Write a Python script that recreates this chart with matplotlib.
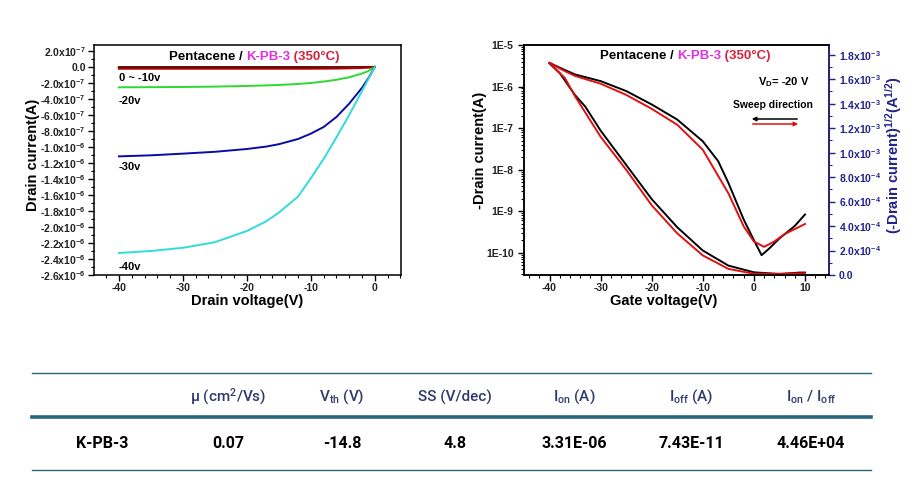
import matplotlib
matplotlib.use('Agg')
import matplotlib.pyplot as plt
from matplotlib.ticker import MultipleLocator, FuncFormatter, LogLocator, NullFormatter
from matplotlib.transforms import IdentityTransform
from matplotlib.patches import FancyArrowPatch
import numpy as np

plt.rcParams['font.family'] = ['Liberation Sans', 'DejaVu Sans']
plt.rcParams['mathtext.fontset'] = 'custom'
plt.rcParams['mathtext.rm'] = 'Liberation Sans'
plt.rcParams['axes.unicode_minus'] = False

# ---------------- output characteristics (left) ----------------
vd = [-40, -35, -30, -25, -20, -17, -15, -12, -10, -8, -6, -4, -2, -1, 0]
id_vg0 = [-0.3e-8, -0.3e-8, -0.3e-8, -0.3e-8, -0.3e-8, -0.3e-8, -0.3e-8, -0.3e-8,
          -0.3e-8, -0.3e-8, -0.3e-8, -0.3e-8, -0.2e-8, -0.1e-8, 0.0]
id_vg10 = [-2.0e-8, -2.0e-8, -2.0e-8, -2.0e-8, -2.0e-8, -2.0e-8, -2.0e-8, -2.0e-8,
           -2.0e-8, -1.9e-8, -1.8e-8, -1.5e-8, -1.0e-8, -0.6e-8, 0.0]
id_vg20 = [-2.54e-7, -2.52e-7, -2.50e-7, -2.45e-7, -2.37e-7, -2.30e-7, -2.25e-7, -2.12e-7,
           -2.00e-7, -1.82e-7, -1.60e-7, -1.28e-7, -0.82e-7, -0.50e-7, 0.0]
id_vg30 = [-11.17e-7, -11.04e-7, -10.83e-7, -10.6e-7, -10.25e-7, -9.95e-7, -9.65e-7, -9.0e-7,
           -8.33e-7, -7.5e-7, -6.25e-7, -4.58e-7, -2.6e-7, -1.4e-7, 0.0]
id_vg40 = [-23.25e-7, -23.0e-7, -22.6e-7, -21.9e-7, -20.5e-7, -19.3e-7, -18.2e-7, -16.2e-7,
           -13.9e-7, -11.5e-7, -8.8e-7, -6.0e-7, -3.0e-7, -1.5e-7, 0.0]
out_labels = ['0 ~ -10v', '-20v', '-30v', '-40v']

# ---------------- transfer characteristics (right) ----------------
vg_blk_log = [-40, -37, -35, -30, -25, -20, -15, -10, -7, -5, -2, 0, 1.5, 3, 5, 8, 10]
id_blk_log = [3.7e-6, 2.5e-6, 1.95e-6, 1.35e-6, 7.8e-7, 3.7e-7, 1.6e-7, 4.8e-8, 1.6e-8, 4.8e-9,
              6.3e-10, 2.0e-10, 8.7e-11, 1.26e-10, 2.2e-10, 4.4e-10, 8.3e-10]
vg_red_log = [-40, -37, -35, -30, -25, -20, -15, -10, -5, -2, 0, 2, 4, 6, 8, 10]
id_red_log = [3.7e-6, 2.35e-6, 1.8e-6, 1.17e-6, 6.3e-7, 2.9e-7, 1.2e-7, 3.0e-8, 2.7e-9, 4.3e-10,
              1.86e-10, 1.38e-10, 1.86e-10, 2.8e-10, 3.7e-10, 4.9e-10]
vg_blk_sqrt = [-40, -38, -35, -33, -30, -25, -20, -15, -10, -5, 0, 5, 9, 10]
sq_blk = [1.73e-3, 1.65e-3, 1.47e-3, 1.376e-3, 1.18e-3, 0.90e-3, 0.62e-3, 0.39e-3,
          0.20e-3, 0.077e-3, 0.022e-3, 0.008e-3, 0.02e-3, 0.02e-3]
vg_red_sqrt = [-40, -37, -35, -30, -25, -20, -15, -10, -5, 0, 5, 10]
sq_red = [1.73e-3, 1.61e-3, 1.46e-3, 1.13e-3, 0.86e-3, 0.57e-3, 0.34e-3, 0.16e-3,
          0.05e-3, 0.01e-3, 0.01e-3, 0.014e-3]

# ---------------- table ----------------
tbl_headers = ['\u03bc (cm$\\mathregular{^2}$/Vs)', 'V$\\mathregular{_{th}}$ (V)', 'SS (V/dec)',
               'I$\\mathregular{_{on}}$ (A)', 'I$\\mathregular{_{off}}$ (A)',
               'I$\\mathregular{_{on}}$ / I$\\mathregular{_{off}}$']
tbl_row_label = 'K-PB-3'
tbl_values = ['0.07', '-14.8', '4.8', '3.31E-06', '7.43E-11', '4.46E+04']

W, H = 924, 482
fig = plt.figure(figsize=(W / 100, H / 100), dpi=100)


def ax_rect(l, r, t, b):
    return [l / W, 1 - b / H, (r - l) / W, (b - t) / H]


def sci_fmt(v, pos):
    if abs(v) < 1e-15:
        return '0.0'
    e = int(np.floor(np.log10(abs(v)) + 1e-9))
    m = v / 10 ** e
    return '%.1fx10$^{\\mathregular{%d}}$' % (m, e)


TICKFS = 7.5
LABFS = 10.5

# ---- left axes ----
ax1 = fig.add_axes(ax_rect(94, 401, 45, 275))
ax1.plot(vd, id_vg0, color='#3a0000', lw=1.6)
ax1.plot(vd, id_vg10, color='#b00000', lw=1.6)
ax1.plot(vd, id_vg20, color='#30d830', lw=1.4)
ax1.plot(vd, id_vg30, color='#0a0aa8', lw=1.4)
ax1.plot(vd, id_vg40, color='#30dcd8', lw=1.4)
ax1.set_xlim(-43.9, 4.1)
ax1.set_ylim(-2.6e-6, 2.75e-7)
ax1.yaxis.set_major_locator(MultipleLocator(2e-7))
ax1.yaxis.set_minor_locator(MultipleLocator(1e-7))
ax1.yaxis.set_major_formatter(FuncFormatter(sci_fmt))
ax1.xaxis.set_major_locator(MultipleLocator(10))
ax1.xaxis.set_minor_locator(MultipleLocator(2))

# ---- right axes ----
ax2 = fig.add_axes(ax_rect(524, 829, 45, 275))
ax2.semilogy(vg_blk_log, id_blk_log, color='black', lw=1.4)
ax2.semilogy(vg_red_log, id_red_log, color='#e01010', lw=1.4)
ax2.set_xlim(-45, 14.7)
ax2.set_ylim(2.9e-11, 1e-5)
ax2.yaxis.set_major_locator(LogLocator(base=10, numticks=20))
ax2.yaxis.set_minor_locator(LogLocator(base=10, subs=np.arange(2, 10), numticks=20))
ax2.yaxis.set_minor_formatter(NullFormatter())
ax2.yaxis.set_major_formatter(FuncFormatter(lambda v, p: '1E%d' % int(round(np.log10(v)))))
ax2.xaxis.set_major_locator(MultipleLocator(10))
ax2.xaxis.set_minor_locator(MultipleLocator(2))

ax3 = ax2.twinx()
NAVY = '#23238a'
ax3.plot(vg_blk_sqrt, sq_blk, color='black', lw=1.4)
ax3.plot(vg_red_sqrt, sq_red, color='#e01010', lw=1.4)
ax3.set_ylim(0, 1.88e-3)
ax3.yaxis.set_major_locator(MultipleLocator(2e-4))
ax3.yaxis.set_minor_locator(MultipleLocator(1e-4))
ax3.yaxis.set_major_formatter(FuncFormatter(sci_fmt))

for ax in (ax1, ax2, ax3):
    for s in ax.spines.values():
        s.set_linewidth(1.1)
    ax.tick_params(which='major', direction='out', length=4, width=1, labelsize=TICKFS)
    ax.tick_params(which='minor', direction='out', length=2, width=0.8)
    for lab in ax.get_xticklabels() + ax.get_yticklabels():
        lab.set_fontweight('bold')
ax3.spines['right'].set_color(NAVY)
ax3.tick_params(axis='y', which='both', colors=NAVY, pad=3)
ax1.tick_params(axis='y', pad=2)
ax1.tick_params(axis='x', pad=2)
ax2.tick_params(axis='x', pad=2)
for lab in ax3.get_yticklabels():
    lab.set_color(NAVY)
for ax in (ax1, ax2):
    for lab in ax.get_xticklabels() + ax.get_yticklabels():
        lab.set_color('#222222')

# ---- text helpers (pixel coords from top-left) ----
ID = IdentityTransform()


def ptext(x, y, s, **kw):
    return fig.text(x, H - y, s, transform=ID, **kw)


renderer = fig.canvas.get_renderer()


def multicolor(xc, y, parts, **kw):
    widths = []
    tmp = []
    for s, c in parts:
        t = ptext(0, y, s, color=c, ha='left', va='center', **kw)
        widths.append(t.get_window_extent(renderer).width)
        tmp.append(t)
    x = xc - sum(widths) / 2
    for t, w in zip(tmp, widths):
        t.set_position((x, H - y))
        x += w


title_parts = [('Pentacene / ', 'black'), ('K-PB-3', '#e030e0'), (' (350\u00b0C)', '#d8203c')]
multicolor(254, 57, title_parts, fontsize=9.5, fontweight='bold')
multicolor(685, 56, title_parts, fontsize=9.5, fontweight='bold')

# curve labels on output plot
for s, yy in zip(out_labels, [78, 101, 167, 267]):
    ptext(119, yy, s, fontsize=8, fontweight='bold', ha='left', va='center')

ptext(758, 82, 'V$\\mathregular{_D}$= -20 V', fontsize=8, fontweight='bold', ha='left', va='center')
ptext(733, 105, 'Sweep direction', fontsize=7.5, fontweight='bold', ha='left', va='center')
fig.add_artist(FancyArrowPatch((800, H - 119), (749, H - 119), transform=ID,
               arrowstyle='-|>', mutation_scale=6, color='black', lw=1.1))
fig.add_artist(FancyArrowPatch((750, H - 124), (801, H - 124), transform=ID,
               arrowstyle='-|>', mutation_scale=6, color='#e01010', lw=1.1))

# axis labels
ptext(33, 155, 'Drain current(A)', fontsize=LABFS, fontweight='bold', rotation=90, ha='center', va='center')
ptext(247, 301, 'Drain voltage(V)', fontsize=LABFS, fontweight='bold', ha='center', va='center')
ptext(480, 150, '-Drain current(A)', fontsize=LABFS, fontweight='bold', rotation=90, ha='center', va='center')
ptext(664, 301, 'Gate voltage(V)', fontsize=LABFS, fontweight='bold', ha='center', va='center')
ptext(894, 155, '(-Drain current)$\\mathregular{^{1/2}}$(A$\\mathregular{^{1/2}}$)', fontsize=LABFS,
      fontweight='bold', rotation=90, ha='center', va='center', color=NAVY)

# ---- table ----
axt = fig.add_axes([0, 0, 1, 1], zorder=-1)
axt.set_xlim(0, W)
axt.set_ylim(H, 0)
axt.axis('off')
LINEC = '#26657e'
axt.plot([32, 871], [372.5, 372.5], color=LINEC, lw=1.0)
axt.plot([32, 871], [417, 417], color=LINEC, lw=2.6)
axt.plot([32, 871], [470, 470], color=LINEC, lw=1.0)
col_x = [228, 342, 455, 574, 691, 811]
HEADC = '#2e3a6c'
TFONT = ['Roboto', 'DejaVu Sans']
for cx, h in zip(col_x, tbl_headers):
    axt.text(cx, 397, h, fontsize=11, color=HEADC, ha='center', va='center',
             family=TFONT, fontweight='medium')
axt.text(102, 443, tbl_row_label, fontsize=11.5, fontweight='bold', ha='center', va='center',
         family=TFONT)
for cx, v in zip(col_x, tbl_values):
    axt.text(cx, 443, v, fontsize=11.5, fontweight='bold', ha='center', va='center',
             family=TFONT)

fig.savefig('out.png', dpi=100)
